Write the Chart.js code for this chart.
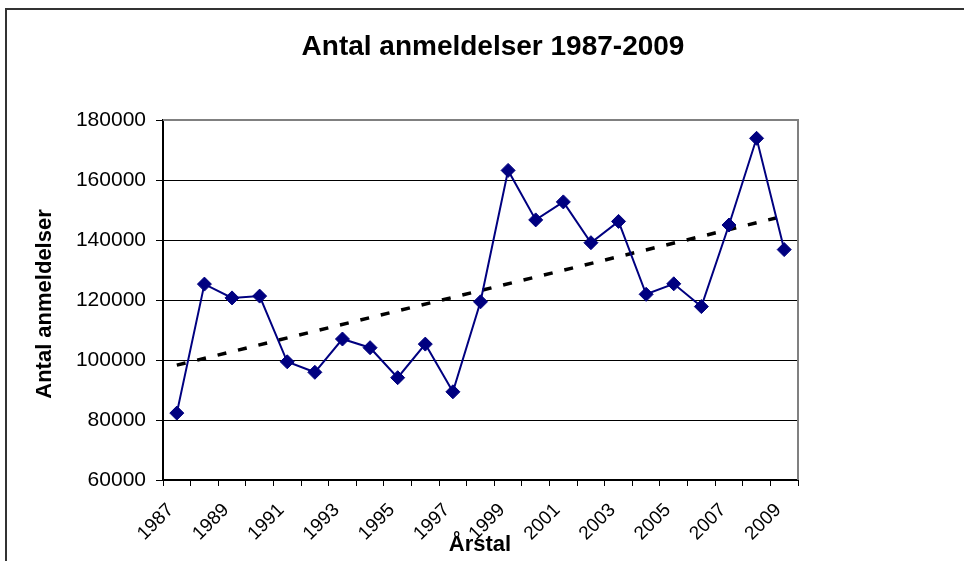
<!DOCTYPE html>
<html>
<head>
<meta charset="utf-8">
<script src="https://cdn.jsdelivr.net/npm/chart.js@4"></script>
<style>
  html, body { margin: 0; padding: 0; background: #fff; }
  #wrap { width: 964px; height: 561px; }
</style>
</head>
<body>
<div id="wrap"><canvas id="chart" width="964" height="561"></canvas></div>
<script>
// data
const years = ["1987","1988","1989","1990","1991","1992","1993","1994","1995","1996","1997","1998",
               "1999","2000","2001","2002","2003","2004","2005","2006","2007","2008","2009"];
const reports = [82300, 125300, 120700, 121300, 99400, 95900, 107000, 104100, 94100, 105300, 89400, 119400,
                 163200, 146700, 152700, 139100, 146200, 121900, 125400, 117800, 145000, 173900, 136800];
// trendline ends (first and last year), points in between are left empty
const trendStart = 98300;
const trendEnd = 148000;
const yTicks = [60000, 80000, 100000, 120000, 140000, 160000, 180000];

const trend = years.map((y, i) => i === 0 ? trendStart : (i === years.length - 1 ? trendEnd : null));

const FONT = "'Liberation Sans', Arial, sans-serif";

/* ========== FRAME + TITLES ========== */
const decor = {
    id: "decor",
    beforeDraw(chart) {
        const ctx = chart.ctx;
        ctx.save();
        ctx.fillStyle = "#fff";
        ctx.fillRect(0, 0, chart.width, chart.height);
        ctx.strokeStyle = "#333";
        ctx.lineWidth = 2;
        ctx.strokeRect(6, 9, 1100, 700);
        ctx.restore();
    },
    afterDraw(chart) {
        const ctx = chart.ctx;
        const a = chart.chartArea;
        ctx.save();
        // grey plot border top/right
        ctx.strokeStyle = "#808080";
        ctx.lineWidth = 2;
        ctx.beginPath();
        ctx.moveTo(a.left, a.top);
        ctx.lineTo(a.right, a.top);
        ctx.lineTo(a.right, a.bottom);
        ctx.stroke();

        ctx.fillStyle = "#000";
        ctx.textAlign = "center";
        ctx.textBaseline = "middle";
        ctx.font = "bold 28px " + FONT;
        ctx.fillText("Antal anmeldelser 1987-2009", 493, 47);

        ctx.font = "bold 22px " + FONT;
        ctx.fillText("Årstal", 480, 545);

        ctx.translate(45, 304);
        ctx.rotate(-Math.PI / 2);
        ctx.fillText("Antal anmeldelser", 0, 0);
        ctx.restore();
    }
};

const ctx = document.getElementById("chart").getContext("2d");
new Chart(ctx, {
    type: "line",
    data: {
        labels: years,
        datasets: [{
            label: "Antal anmeldelser",
            data: reports,
            borderColor: "#000080",
            backgroundColor: "#000080",
            borderWidth: 2,
            pointStyle: "rectRot",
            pointRadius: 7,
            pointBorderWidth: 1,
            tension: 0,
            order: 1
        }, {
            label: "Tendens",
            data: trend,
            spanGaps: true,
            borderColor: "#000",
            borderWidth: 3.5,
            borderDash: [9, 12],
            pointRadius: 0,
            order: 2
        }]
    },
    options: {
        responsive: false,
        animation: false,
        layout: { padding: { top: 120, right: 166, left: 0, bottom: 0 } },
        plugins: {
            legend: { display: false },
            title: { display: false },
            tooltip: { enabled: false }
        },
        scales: {
            x: {
                type: "category",
                offset: true,
                afterFit: s => { s.height = 81; },
                border: { color: "#000", width: 2 },
                grid: { offset: true, drawOnChartArea: false, drawTicks: true, tickLength: 6, color: "#000" },
                ticks: {
                    autoSkip: false,
                    maxRotation: 45,
                    minRotation: 45,
                    padding: 13,
                    labelOffset: -6,
                    color: "#000",
                    font: { family: FONT, size: 19 },
                    callback: function (v, i) { return i % 2 === 0 ? this.getLabelForValue(v) : ""; }
                }
            },
            y: {
                min: yTicks[0],
                max: yTicks[yTicks.length - 1],
                afterFit: s => { s.width = 163; },
                afterBuildTicks: s => { s.ticks = yTicks.map(v => ({ value: v })); },
                border: { color: "#000", width: 2 },
                grid: { color: "#000", lineWidth: 1, tickLength: 7 },
                ticks: {
                    padding: 10,
                    color: "#000",
                    font: { family: FONT, size: 21 },
                    callback: v => String(v)
                }
            }
        }
    },
    plugins: [decor]
});
</script>
</body>
</html>
